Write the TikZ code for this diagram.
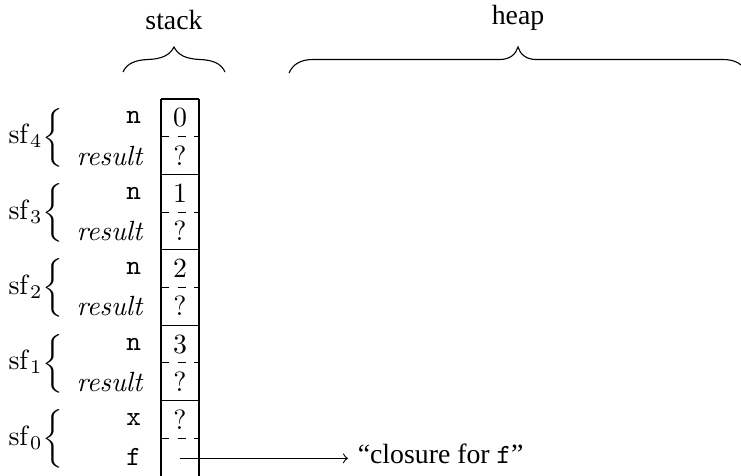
\documentclass[tikz,border=0pt]{standalone}
\usepackage[no-math]{fontspec}
\usepackage{graphicx}
\setmainfont{Liberation Serif}
\begin{document}
\begin{tikzpicture}[x=0.36pt,y=-0.36pt,line width=0.4pt,
  val/.style={inner sep=0pt},
  lbl/.style={anchor=east,inner sep=0pt},
  frm/.style={anchor=east,inner sep=0pt},
  cellline/.style={line width=0.4pt},
  toplbl/.style={anchor=south,yshift=2.5pt}]
\useasboundingbox (0,0) rectangle (741,475);
\clip (0,0) rectangle (741,475);
% stack column
\draw[cellline] (161,99) -- (161,480);
\draw[cellline] (199,99) -- (199,480);
\foreach \y in {99,174.4,249.8,325.2,400.6} \draw[cellline] (161,\y) -- (199,\y);
\foreach \y in {136.7,212.1,287.5,362.9,438.3} \draw[cellline,dashed] (161,\y) -- (199,\y);
% values
\node[val] (v4n) at (180,117.9) {$0$};
\node[val] (v4r) at (180,155.5) {$?$};
\node[val] (v3n) at (180,193.3) {$1$};
\node[val] (v3r) at (180,230.9) {$?$};
\node[val] (v2n) at (180,268.7) {$2$};
\node[val] (v2r) at (180,306.3) {$?$};
\node[val] (v1n) at (180,344.1) {$3$};
\node[val] (v1r) at (180,381.7) {$?$};
\node[val] (v0x) at (180,419.5) {$?$};
% variable labels
\node[lbl] (l4n) at (141.5,117.9) {\texttt{n}};
\node[lbl] (l4r) at (145.5,155.5) {$\mathit{result}$};
\node[lbl] (l3n) at (141.5,193.3) {\texttt{n}};
\node[lbl] (l3r) at (145.5,230.9) {$\mathit{result}$};
\node[lbl] (l2n) at (141.5,268.7) {\texttt{n}};
\node[lbl] (l2r) at (145.5,306.3) {$\mathit{result}$};
\node[lbl] (l1n) at (141.5,344.1) {\texttt{n}};
\node[lbl] (l1r) at (145.5,381.7) {$\mathit{result}$};
\node[lbl] (l0x) at (141.5,419.5) {\texttt{x}};
\node[lbl] (l0f) at (141.5,457.2) {\texttt{f}};
% frame labels
\node[frm] (sf4) at (64,137.5) {$\mathrm{sf}_4\scalebox{1}[0.88]{$\biggl\{$}$};
\node[frm] (sf3) at (64,212.9) {$\mathrm{sf}_3\scalebox{1}[0.88]{$\biggl\{$}$};
\node[frm] (sf2) at (64,288.3) {$\mathrm{sf}_2\scalebox{1}[0.88]{$\biggl\{$}$};
\node[frm] (sf1) at (64,363.7) {$\mathrm{sf}_1\scalebox{1}[0.88]{$\biggl\{$}$};
\node[frm] (sf0) at (64,439.1) {$\mathrm{sf}_0\scalebox{1}[0.88]{$\biggl\{$}$};
% top braces
\coordinate (stip) at (174,47);
\coordinate (htip) at (518,47);
\draw (123,72) .. controls (127,63) and (136,60) .. (148,59.5)
  .. controls (162,59) and (170,55) .. (stip)
  .. controls (178,55) and (186,59) .. (200,59.5)
  .. controls (212,60) and (221,63) .. (225,72);
\draw (289,73) .. controls (293,64) and (301,59.5) .. (313,59.5) -- (500,59.5)
  .. controls (510,59.5) and (516,54) .. (htip)
  .. controls (520,54) and (526,59.5) .. (536,59.5) -- (723,59.5)
  .. controls (735,59.5) and (743,64) .. (747,73);
\node[toplbl] (stack) at (stip) {stack};
\node[toplbl] (heap) at (htip) {heap};
% pointer
\coordinate (fptr) at (180,458.3);
\node[anchor=base west] (closure) at (348,463) {``closure for \texttt{f}''};
\draw[->] (fptr) -- (closure.west |- fptr);
\end{tikzpicture}
\end{document}
